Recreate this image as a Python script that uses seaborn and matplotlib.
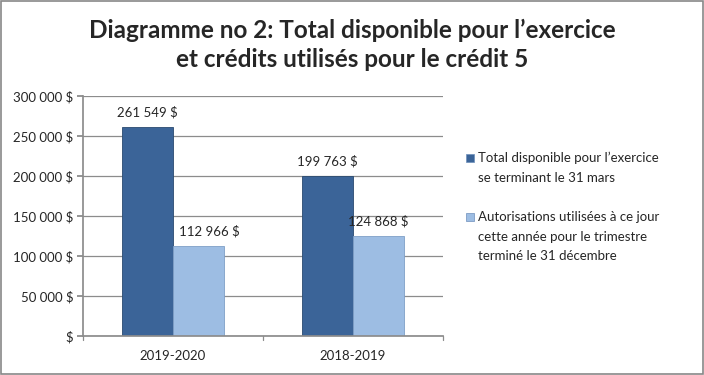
import matplotlib
matplotlib.use("Agg")
import matplotlib.pyplot as plt
import matplotlib.patches as mpatches
import seaborn as sns
import pandas as pd

years = ["2019-2020", "2018-2019"]
series = [
    "Total disponible pour l\u2019exercice\nse terminant le 31 mars",
    "Autorisations utilis\u00e9es \u00e0 ce jour\ncette ann\u00e9e pour le trimestre\ntermin\u00e9 le 31 d\u00e9cembre",
]
total_dispo = [261549, 199763]
autorisations = [112966, 124868]
yticks = [0, 50000, 100000, 150000, 200000, 250000, 300000]
colors = ["#3B6498", "#9DBDE3"]

def fmt_money(v):
    if v == 0:
        return "$"
    return f"{v:,.0f}".replace(",", " ") + " $"

df = pd.DataFrame({
    "year": years * 2,
    "serie": [series[0]] * 2 + [series[1]] * 2,
    "value": total_dispo + autorisations,
})

sns.set_theme(style="white")
plt.rcParams["font.family"] = ["Lato", "DejaVu Sans"]

W, H = 704, 375
fig = plt.figure(figsize=(W / 100, H / 100), dpi=100)
ax = fig.add_axes([0.118, 0.104, 0.511, 0.640])

sns.barplot(data=df, x="year", y="value", hue="serie", palette=colors,
            width=0.57, ax=ax, legend=False, saturation=1,
            edgecolor="#2a4a70", linewidth=0.6)

# bar edges: light series gets lighter edge
for p in ax.patches[2:4]:
    p.set_edgecolor("#7f9fc7")

ax.set_ylim(0, 300000)
ax.set_xlim(-0.5, 1.5)
ax.set_yticks(yticks)
ax.set_yticklabels([fmt_money(v) for v in yticks], fontsize=9.5)
ax.set_xticks([0, 1])
ax.set_xticklabels(years, fontsize=9.5)
ax.tick_params(axis="x", length=0, pad=10)
ax.tick_params(axis="y", length=4, color="#888888", left=True, pad=3)
ax.yaxis.grid(True, color="#8c8c8c", linewidth=0.9)
ax.set_axisbelow(True)
ax.set_xlabel("")
ax.set_ylabel("")
for s in ["top", "right"]:
    ax.spines[s].set_visible(False)
ax.spines["left"].set_color("#8c8c8c")
ax.spines["bottom"].set_color("#8c8c8c")
# category boundary ticks on x axis
for xb in [-0.5, 0.5, 1.5]:
    ax.plot([xb, xb], [0, -5000], color="#8c8c8c", lw=0.9, clip_on=False)

# value labels
offsets = [0, 0, 8, 0]
for p, v, dx in zip(ax.patches[:4], total_dispo + autorisations, offsets):
    ax.annotate(fmt_money(v), (p.get_x() + p.get_width() / 2, p.get_height()),
                xytext=(dx, 6), textcoords="offset points",
                ha="center", va="bottom", fontsize=9.5)

fig.text(0.5, 0.88, "Diagramme no 2: Total disponible pour l\u2019exercice\net cr\u00e9dits utilis\u00e9s pour le cr\u00e9dit 5",
         ha="center", va="center", fontsize=17.5, fontweight="bold", linespacing=1.35)

# legend drawn by hand so the swatch lines up with the first text line
line_h = 19.5
for label, color, y0 in zip(series, colors, [158, 217]):
    fig.add_artist(mpatches.Rectangle(((466) / W, 1 - (y0 + 4) / H), 8 / W, 8 / H,
                                      transform=fig.transFigure, facecolor=color,
                                      edgecolor="#6d8fbb", linewidth=0.5))
    for i, line in enumerate(label.split("\n")):
        fig.text(478 / W, 1 - (y0 + i * line_h) / H, line, ha="left", va="center",
                 fontsize=9.5)

fig.add_artist(mpatches.Rectangle((0.001, 0.002), 0.997, 0.995, transform=fig.transFigure,
                                  fill=False, edgecolor="#888888", linewidth=1.2))

fig.savefig("out.png", dpi=100)
